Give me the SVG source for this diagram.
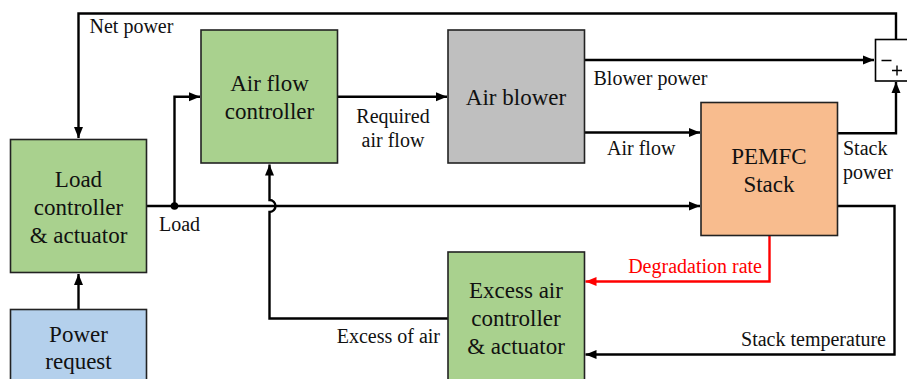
<svg xmlns="http://www.w3.org/2000/svg" width="907" height="379" viewBox="0 0 907 379">
<style>
.box{stroke:#222;stroke-width:1.6}
.green{fill:#A9D18E}
.gray{fill:#BFBFBF}
.orange{fill:#F8BC8E}
.blue{fill:#B4D0EC}
.bt{font-family:"Liberation Serif","Times New Roman",serif;font-size:23px;fill:#111;text-anchor:middle}
.lb{font-family:"Liberation Serif","Times New Roman",serif;font-size:20px;fill:#111}
.c{fill:none;stroke:#000;stroke-width:2.4}
.red{stroke:#F00}
</style>
<defs>
<marker id="ah" markerUnits="userSpaceOnUse" markerWidth="12" markerHeight="10" refX="11" refY="5" orient="auto"><path d="M0,0.5 L11,5 L0,9.5 Z" fill="#000"/></marker>
<marker id="ahr" markerUnits="userSpaceOnUse" markerWidth="12" markerHeight="10" refX="11" refY="5" orient="auto"><path d="M0,0.5 L11,5 L0,9.5 Z" fill="#F00"/></marker>
</defs>
<rect width="907" height="379" fill="#fff"/>
<g id="connectors">
<path class="c" d="M896,39.5 V13.5 H78.5 V138" marker-end="url(#ah)"/>
<path class="c" d="M584.5,60 H874" marker-end="url(#ah)"/>
<path class="c" d="M584.5,132.5 H700" marker-end="url(#ah)"/>
<path class="c" d="M837.5,133.3 H896 V82" marker-end="url(#ah)"/>
<path class="c" d="M837.5,206 H894.5 V354.5 H585.5" marker-end="url(#ah)"/>
<path class="c red" d="M769.5,235.5 V281.5 H585.5" marker-end="url(#ahr)"/>
<path class="c" d="M448,318.5 H269.5 V212 A6,6 0 0 0 269.5,200 V164.5" marker-end="url(#ah)"/>
<path class="c" d="M78.5,309 V274" marker-end="url(#ah)"/>
<path class="c" d="M337.5,96.7 H447" marker-end="url(#ah)"/>
<path class="c" d="M146.5,206 H700" marker-end="url(#ah)"/>
<path class="c" d="M174.5,206 V96.7 H200" marker-end="url(#ah)"/>
<circle cx="174.5" cy="206" r="3.8" fill="#000"/>
</g>
<g id="sum">
<rect x="875.5" y="39.5" width="40" height="41.5" fill="#fff" stroke="#000" stroke-width="1.6"/>
<path d="M881.5,60.5 H891.5 M892,70.5 H902 M897,65.5 V75.5" stroke="#000" stroke-width="1.4"/>
</g>
<g id="air-flow-controller">
<rect class="box green" x="201" y="30" width="136.5" height="133"/>
<text class="bt" x="269.5" y="91">Air flow</text>
<text class="bt" x="269.5" y="119">controller</text>
</g>
<g id="air-blower">
<rect class="box gray" x="448" y="30" width="136.5" height="133"/>
<text class="bt" x="516" y="105">Air blower</text>
</g>
<g id="pemfc-stack">
<rect class="box orange" x="701" y="102.5" width="136.5" height="133"/>
<text class="bt" x="769" y="164">PEMFC</text>
<text class="bt" x="769" y="192">Stack</text>
</g>
<g id="load-controller">
<rect class="box green" x="10.5" y="139.5" width="136" height="133"/>
<text class="bt" x="78.5" y="187">Load</text>
<text class="bt" x="78.5" y="215">controller</text>
<text class="bt" x="78.5" y="243">&amp; actuator</text>
</g>
<g id="excess-air-controller">
<rect class="box green" x="448" y="252" width="136.5" height="140"/>
<text class="bt" x="516" y="298">Excess air</text>
<text class="bt" x="516" y="326">controller</text>
<text class="bt" x="516" y="353.5">&amp; actuator</text>
</g>
<g id="power-request">
<rect class="box blue" x="10.5" y="309.5" width="136" height="80"/>
<text class="bt" x="78.5" y="341.5">Power</text>
<text class="bt" x="78.5" y="369">request</text>
</g>
<g id="labels">
<text class="lb" x="89.5" y="33">Net power</text>
<text class="lb" x="593.5" y="84.5">Blower power</text>
<text class="lb" x="393" y="123" text-anchor="middle">Required</text>
<text class="lb" x="393" y="147" text-anchor="middle">air flow</text>
<text class="lb" x="607" y="155">Air flow</text>
<text class="lb" x="843" y="155">Stack</text>
<text class="lb" x="843" y="179">power</text>
<text class="lb" x="159" y="231">Load</text>
<text class="lb" x="762" y="273" text-anchor="end" style="fill:#F00">Degradation rate</text>
<text class="lb" x="886" y="345.5" text-anchor="end">Stack temperature</text>
<text class="lb" x="440" y="343" text-anchor="end">Excess of air</text>
</g>
</svg>
